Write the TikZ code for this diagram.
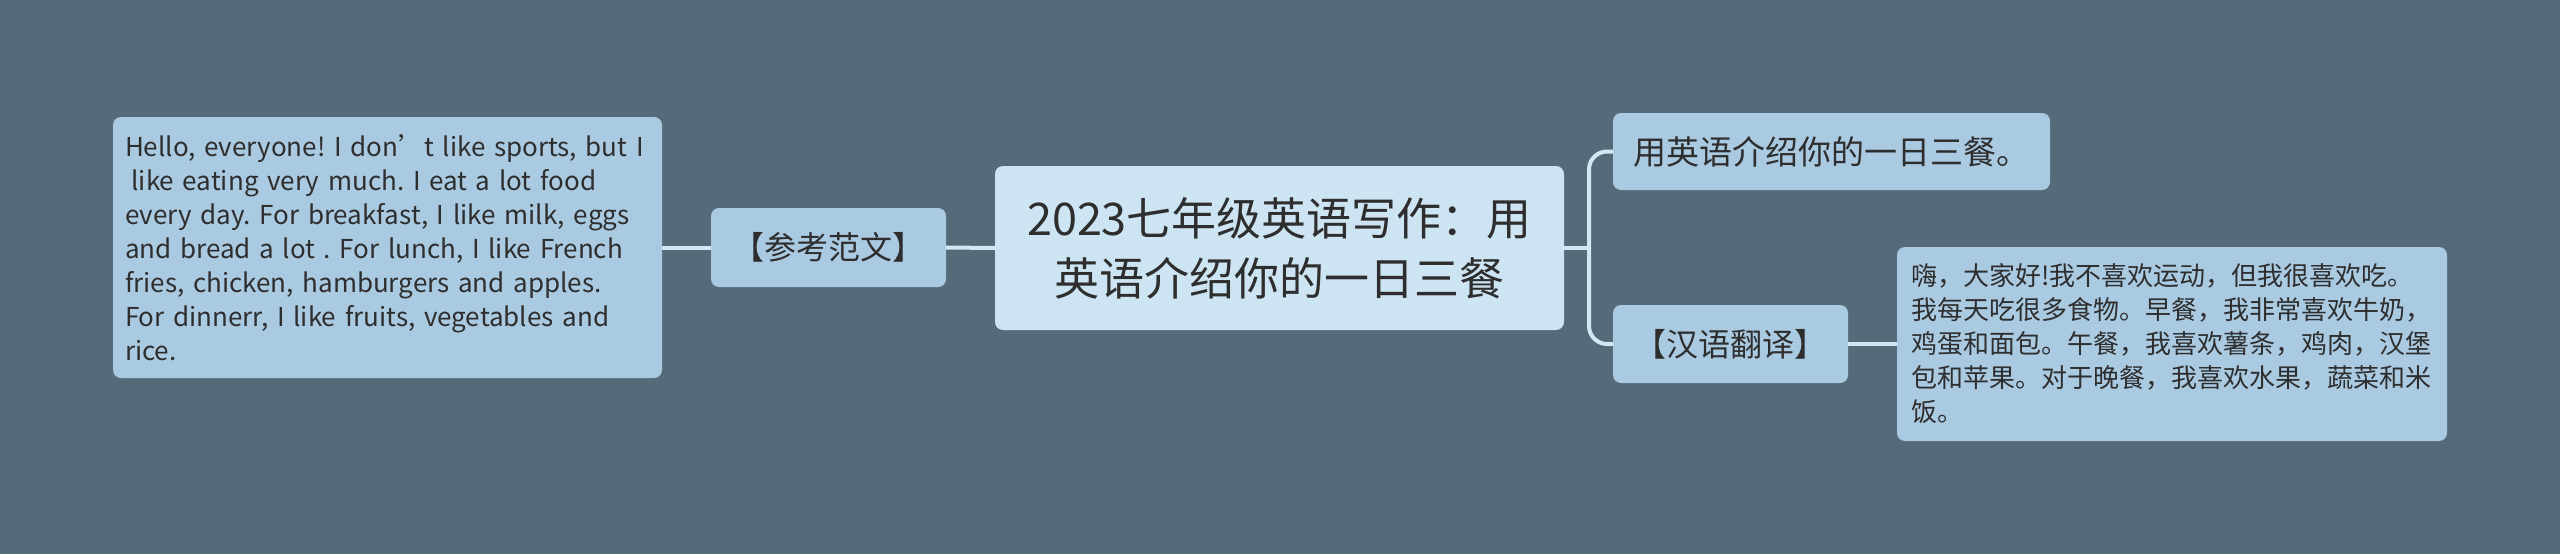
\documentclass[tikz,border=0pt]{standalone}
\usepackage{fontspec}
\setmainfont{Noto Sans CJK SC}
\definecolor{bg}{HTML}{556B7A}
\definecolor{boxfill}{HTML}{AACAE2}
\definecolor{centerfill}{HTML}{CDE5F3}
\definecolor{linkc}{HTML}{D3E6F2}
\definecolor{txt}{HTML}{2E2E2E}
\begin{document}
\begin{tikzpicture}[x=1pt,y=-1pt,
  mbox/.style={rectangle, rounded corners=8pt, fill=boxfill, text=txt, inner sep=0pt, align=center},
  cbox/.style={mbox, fill=centerfill},
  link/.style={draw=linkc, line width=4pt},
]
\fill[bg] (0,0) rectangle (2560,554);
\useasboundingbox (0,0) rectangle (2560,554);

\node[cbox, minimum width=569pt, minimum height=164pt, font=\fontsize{45}{60}\selectfont]
  (center) at (1279.5,248) {2023七年级英语写作：用\\英语介绍你的一日三餐};

\node[mbox, minimum width=235pt, minimum height=79pt, font=\fontsize{32}{40}\selectfont]
  (ref) at (828.5,247.5) {【参考范文】};

\node[mbox, minimum width=549pt, minimum height=261pt, text width=525pt, inner xsep=12pt, align=left, font=\fontsize{26}{34}\selectfont\frenchspacing]
  (left) at (387.5,247.5) {Hello, everyone! I don’t like sports, but I\\
\hspace{0.25em}like eating very much. I eat a lot food\\
every day. For breakfast, I like milk, eggs\\
and bread a lot . For lunch, I like French\\
fries, chicken, hamburgers and apples.\\
For dinnerr, I like fruits, vegetables and\\
rice.};

\node[mbox, minimum width=437pt, minimum height=77pt, font=\fontsize{33}{40}\selectfont]
  (top) at (1831.5,151.5) {用英语介绍你的一日三餐。};

\node[mbox, minimum width=235pt, minimum height=78pt, font=\fontsize{32}{40}\selectfont]
  (cn) at (1730.5,344) {【汉语翻译】};

\node[mbox, minimum width=550pt, minimum height=194pt, text width=522pt, inner xsep=14pt, align=left, font=\fontsize{26}{34}\selectfont]
  (right) at (2172,344) {嗨，大家好!我不喜欢运动，但我很喜欢吃。\\
我每天吃很多食物。早餐，我非常喜欢牛奶，\\
鸡蛋和面包。午餐，我喜欢薯条，鸡肉，汉堡\\
包和苹果。对于晚餐，我喜欢水果，蔬菜和米\\
饭。};

\coordinate (fork) at (1589,248);

\draw[link] (center.west) -- (ref.east);
\draw[link] (ref.west) -- (left.east);
\draw[link] (center.east) -- (fork);
\draw[link, rounded corners=18pt] (fork) |- (top.west);
\draw[link, rounded corners=18pt] (fork) |- (cn.west);
\draw[link] (cn.east) -- (right.west);
\end{tikzpicture}
\end{document}
